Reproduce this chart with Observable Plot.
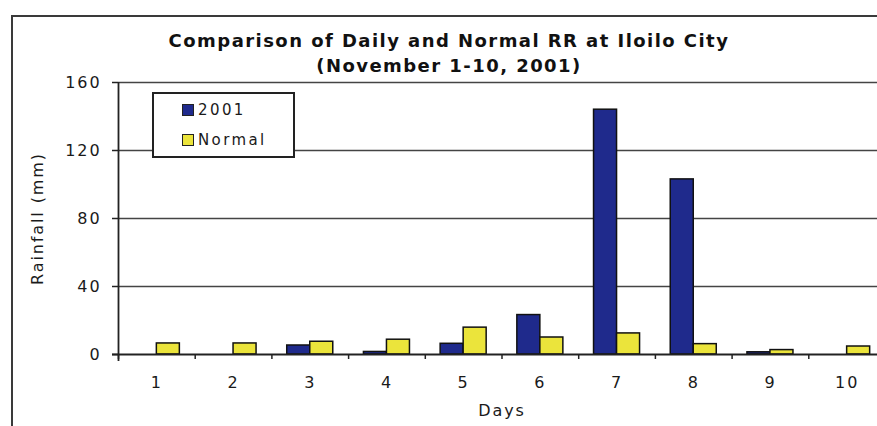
<!DOCTYPE html>
<html>
<head>
<meta charset="utf-8">
<script src="https://cdn.jsdelivr.net/npm/d3@7"></script>
<script src="https://cdn.jsdelivr.net/npm/@observablehq/plot@0.6"></script>
<style>
  html, body { margin: 0; padding: 0; background: #fff; overflow: hidden; }
  #page { position: relative; width: 877px; height: 426px; overflow: hidden; background: #fff; }
  #frame { position: absolute; left: 11px; top: 15px; width: 900px; height: 450px; border: 2px solid #3a3a3a; box-sizing: border-box; }
  #title { position: absolute; left: 0; top: 28px; width: 898px; text-align: center; font-family: "DejaVu Sans", sans-serif; font-weight: bold; font-size: 18px; line-height: 25px; letter-spacing: 1.45px; color: #111; }
  #chart { position: absolute; left: 0; top: 0; width: 877px; height: 426px; overflow: hidden; }
  #chart svg { max-width: none !important; width: 895px !important; height: 426px !important; }
  #chart text { letter-spacing: 1.9px; }
  #legend { position: absolute; left: 152px; top: 92px; width: 143px; height: 66px; box-sizing: border-box; border: 2px solid #222; background: #fff; font-family: "DejaVu Sans", sans-serif; font-size: 15px; color: #1a1a1a; letter-spacing: 2.4px; }
  .item { position: absolute; left: 28px; height: 16px; line-height: 16px; white-space: nowrap; }
  .sw { display: inline-block; width: 10px; height: 10px; border: 1px solid #222; margin-right: 4px; vertical-align: -1px; }
</style>
</head>
<body>
<div id="page">
<div id="frame"></div>
<div id="title">Comparison of Daily and Normal RR at Iloilo City<br>(November 1-10, 2001)</div>
<div id="chart"></div>
<div id="legend"></div>
</div>
<script>
// Data
const days = [1, 2, 3, 4, 5, 6, 7, 8, 9, 10];
const rain2001 = [0, 0, 5.3, 1.5, 6.3, 23.2, 144, 103, 1.3, 0];
const rainNormal = [6.5, 6.5, 7.5, 8.7, 15.8, 10, 12.4, 6.1, 2.6, 4.7];
const seriesNames = ["2001", "Normal"];
const seriesColors = ["#1f2a8c", "#ebe43b"];
const yTicks = [0, 40, 80, 120, 160];
const xLabel = "Days";
const yLabel = "Rainfall (mm)";

const boundaries = d3.range(0.5, days.length + 1, 1);

const chart = Plot.plot({
  width: 895,
  height: 426,
  marginLeft: 118,
  marginRight: 10,
  marginTop: 82,
  marginBottom: 72,
  style: { fontFamily: "DejaVu Sans, sans-serif", fontSize: "16px", color: "#1a1a1a", background: "transparent" },
  x: { domain: [0.5, days.length + 0.5] },
  y: { domain: [0, 160] },
  marks: [
    Plot.ruleY(yTicks.filter(d => d > 0), { stroke: "#444", strokeWidth: 1.6 }),
    Plot.rectY(days, { x1: d => d - 0.3, x2: d => d, y1: 0, y2: (d, i) => rain2001[i], fill: seriesColors[0], stroke: "#111", strokeWidth: 1.5 }),
    Plot.rectY(days, { x1: d => d, x2: d => d + 0.3, y1: 0, y2: (d, i) => rainNormal[i], fill: seriesColors[1], stroke: "#111", strokeWidth: 1.5 }),
    Plot.ruleY([0], { stroke: "#222", strokeWidth: 1.8, insetLeft: -6 }),
    Plot.ruleX([0.5], { stroke: "#222", strokeWidth: 1.8, insetBottom: -7 }),
    Plot.axisY({ ticks: yTicks, tickSize: 6, tickPadding: 11, label: null, stroke: "#222", strokeWidth: 1.5, fontSize: 16 }),
    Plot.axisX({ ticks: boundaries, tickSize: 5, tickFormat: () => "", label: null, stroke: "#222", strokeWidth: 1.5 }),
    Plot.axisX({ ticks: days, tickSize: 0, tickPadding: 22, label: null, fontSize: 16 }),
    Plot.text([xLabel], { frameAnchor: "bottom", dy: 61, fontSize: 16, fill: "#1a1a1a", textAnchor: "middle" }),
    Plot.text([yLabel], { frameAnchor: "left", rotate: -90, dx: -81, fontSize: 16, fill: "#1a1a1a", textAnchor: "middle" })
  ]
});
document.getElementById("chart").appendChild(chart);

const legend = document.getElementById("legend");
seriesNames.forEach((name, i) => {
  const item = document.createElement("div");
  item.className = "item";
  item.style.top = (i === 0 ? 8 : 38) + "px";
  const sw = document.createElement("span");
  sw.className = "sw";
  sw.style.background = seriesColors[i];
  item.appendChild(sw);
  item.appendChild(document.createTextNode(name));
  legend.appendChild(item);
});
</script>
</body>
</html>
